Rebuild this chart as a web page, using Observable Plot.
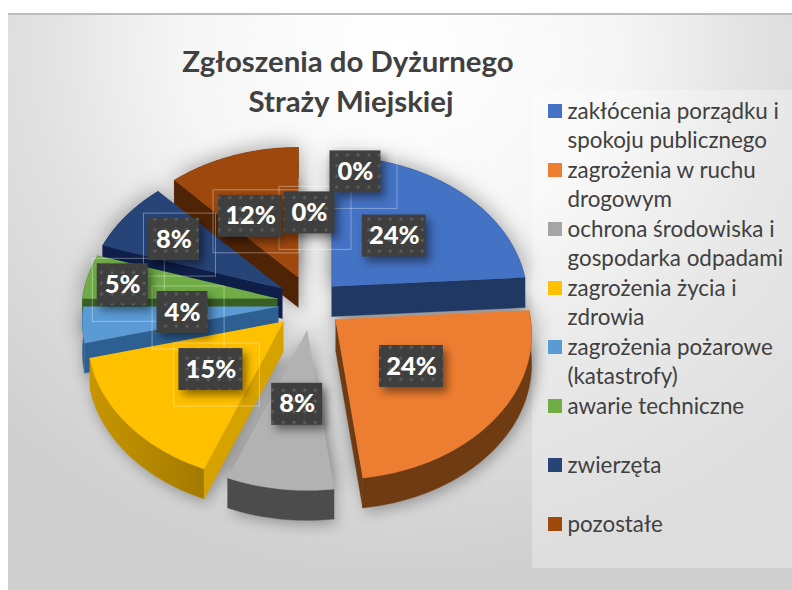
<!DOCTYPE html>
<html lang="pl">
<head>
<meta charset="utf-8">
<script src="https://cdn.jsdelivr.net/npm/d3@7"></script>
<script src="https://cdn.jsdelivr.net/npm/@observablehq/plot@0.6"></script>
<style>
html,body{margin:0;padding:0;background:#fff;}
#wrap{position:relative;width:792px;height:590px;overflow:hidden;}
#bg{position:absolute;left:8px;top:13px;right:0;bottom:0;border-top:2px solid #bdbdbd;box-sizing:border-box;
 background:radial-gradient(ellipse 72% 92% at 50% 6%,#ffffff 0%,#f6f6f6 38%,#e0e0e0 66%,#cfcfcf 100%);}
#chart{position:absolute;left:0;top:0;}
svg{display:block;background:transparent;}
</style>
</head>
<body>
<div id="wrap"><div id="bg"></div><div id="chart"></div></div>
<script>
// ---- chart data ----
const titleLines = ["Zgłoszenia do Dyżurnego", "Straży Miejskiej"];
const categories = [
  ["zakłócenia porządku i", "spokoju publicznego"],
  ["zagrożenia w ruchu", "drogowym"],
  ["ochrona środowiska i", "gospodarka odpadami"],
  ["zagrożenia życia i", "zdrowia"],
  ["zagrożenia pożarowe", "(katastrofy)"],
  ["awarie techniczne"],
  ["zwierzęta"],
  ["pozostałe"]
];
const values = [24, 24, 8, 15, 4, 5, 8, 12];
const zeroLabels = [0, 0];
const topColors = ["#4472c4", "#ed7d31", "#b2b2b2", "#ffc000", "#5b9bd5", "#70ad47", "#264478", "#9e480e"];
const legendColors = ["#4472c4", "#ed7d31", "#a5a5a5", "#ffc000", "#5b9bd5", "#70ad47", "#264478", "#9e480e"];
const rimColors = ["#1f3864", "#6e3b13", "#4c4c4c", "url(#yellowRim)", "#2e5f93", "#3d6526", "#0e1e48", "#4f2406"];
const edgeColors = ["#1f3864", "#6e3b13", "#4c4c4c", "#d6a200", "#2e5f93", "#3a5f24", "#0e1e48", "#4f2406"];

// ---- pie layout: exploded apexes, radii, perspective ----
const apexes = [[331,286],[335,319],[306.5,330],[283,321],[278,306],[277,298],[282,288],[298,277]];
const RX = 195, RY = 143.4, K = 0.103, DEPTH = 30;
const edgeSide = ["end","end",null,"start","start","start","start","start"];
const drawOrder = [7,6,5,4,0,3,2,1];
const labelR = 0.48;
const labelNudge = [[1,-2],[1.5,1.7],[2.5,2],[0,1],[-2.5,-2.7],[-63,-3],[-31.5,-13],[-15,0]];
const zeroNudge = [[57,-40],[11,1]];

const total = d3.sum(values);
const cum = d3.cumsum(values);
const startA = i => (i === 0 ? 0 : cum[i-1]) / total * 2 * Math.PI;
const endA = i => cum[i] / total * 2 * Math.PI;
function project(i, a, r, dz = 0) {
  const u = Math.sin(a), v = -Math.cos(a);
  const s = 1 / (1 - K * r * v);
  return {x: apexes[i][0] + RX * r * u * s, y: apexes[i][1] + RY * r * v * s + dz};
}
const arcPts = (i, dz = 0) => d3.range(0, 61).map(k => project(i, startA(i) + (endA(i) - startA(i)) * k / 60, 1, dz));
const topPoly = (i, dz = 0) => [project(i, 0, 0, dz), ...arcPts(i, dz)];
const rimPoly = i => [...arcPts(i), ...arcPts(i, DEPTH).reverse()];
const edgePoly = (i, a) => [project(i, a, 0), project(i, a, 1), project(i, a, 1, DEPTH), project(i, a, 0, DEPTH)];

const poly = (pts, fill, extra = {}) => Plot.line(pts, {x: "x", y: "y", fill, stroke: fill.startsWith("url") ? "none" : fill, strokeWidth: 0.4, curve: "linear", ...extra});

const shadowMarks = drawOrder.flatMap(i => [
  poly(topPoly(i, 0), "#000000", {fillOpacity: 0.4, strokeOpacity: 0, imageFilter: "blur(11px)"}),
  poly(topPoly(i, DEPTH + 4).map(p => ({x: p.x + 3, y: p.y})), "#000000", {fillOpacity: 0.3, strokeOpacity: 0, imageFilter: "blur(7px)"})
]);
const sliceMarks = drawOrder.flatMap(i => {
  const m = [poly(rimPoly(i), rimColors[i])];
  if (edgeSide[i]) m.push(poly(edgePoly(i, edgeSide[i] === "start" ? startA(i) : endA(i)), edgeColors[i]));
  m.push(poly(topPoly(i), topColors[i]));
  return m;
});

// ---- data labels ----
const labels = [
  ...values.map((v, i) => {
    const p = project(i, (startA(i) + endA(i)) / 2, labelR);
    return {text: `${v}%`, x: p.x + labelNudge[i][0], y: p.y + labelNudge[i][1], guide: i >= 3};
  }),
  ...zeroLabels.map((v, j) => {
    const p = project(7, 2 * Math.PI, labelR);
    return {text: `${v}%`, x: p.x + zeroNudge[j][0], y: p.y + zeroNudge[j][1], guide: true};
  })
];
const halfW = d => d.text.length > 2 ? 32 : 25.5;
const wide = d => d.text.length > 2;

// ---- legend ----
const legendTop = 111, rowStep = 59, lineStep = 29.5;
const legendSwatches = categories.map((c, i) => ({i, y: legendTop + rowStep * i}));
const legendLines = categories.flatMap((c, i) => c.map((t, j) => ({t, y: legendTop + rowStep * i + lineStep * j})));

const defs = () => {
  const s = d3.create("svg:g");
  const d = s.append("defs");
  const g = d.append("linearGradient").attr("id", "yellowRim").attr("x1", 0).attr("x2", 1).attr("y1", 0).attr("y2", 0);
  g.append("stop").attr("offset", "0%").attr("stop-color", "#c99600");
  g.append("stop").attr("offset", "100%").attr("stop-color", "#a27a00");
  const p = d.append("pattern").attr("id", "dots").attr("width", 10.7).attr("height", 10.7).attr("patternUnits", "userSpaceOnUse");
  p.append("rect").attr("width", 10.7).attr("height", 10.7).attr("fill", "#3f3f3f");
  p.append("circle").attr("cx", 5).attr("cy", 5).attr("r", 1.5).attr("fill", "#5e5e5e");
  return s.node();
};

const plot = Plot.plot({
  width: 792, height: 590,
  margin: 0,
  x: {domain: [0, 792], range: [0, 792], axis: null},
  y: {domain: [0, 590], range: [0, 590], axis: null},
  style: {background: "transparent"},
  marks: [
    defs,
    Plot.rect([{x1: 532, x2: 792, y1: 90, y2: 568}], {x1: "x1", x2: "x2", y1: "y1", y2: "y2", fill: "#ffffff", fillOpacity: 0.3}),
    ...shadowMarks,
    ...sliceMarks,
    Plot.rect(labels.filter(d => d.guide), {
      x1: d => d.x - (wide(d) ? 37 : 30), x2: d => d.x + (wide(d) ? 49 : 42),
      y1: d => d.y - 26, y2: d => d.y + 37,
      fill: "none", stroke: "#ffffff", strokeOpacity: 0.35, strokeWidth: 1
    }),
    Plot.rect(labels, {
      x1: d => d.x - halfW(d), x2: d => d.x + halfW(d),
      y1: d => d.y - 21, y2: d => d.y + 21,
      fill: "url(#dots)",
      imageFilter: "drop-shadow(4px 5px 4px rgba(0,0,0,0.45))"
    }),
    Plot.text(labels, {x: "x", y: "y", text: "text", fill: "#ffffff", fontFamily: "Lato", fontWeight: 900, fontSize: 25.5}),
    Plot.text(titleLines, {
      x: (d, i) => i === 0 ? 347.5 : 350.5, y: (d, i) => i === 0 ? 62 : 102,
      text: d => d, fill: "#404040", fontFamily: "Lato", fontWeight: 700, fontSize: 29.4
    }),
    Plot.rect(legendSwatches, {
      x1: () => 548, x2: () => 562, y1: d => d.y - 7, y2: d => d.y + 7,
      fill: d => legendColors[d.i]
    }),
    Plot.text(legendLines, {
      x: () => 567, y: "y", text: "t", textAnchor: "start", fill: "#404040", fontFamily: "Lato", fontSize: 22.4
    })
  ]
});
document.getElementById("chart").appendChild(plot);
</script>
</body>
</html>
